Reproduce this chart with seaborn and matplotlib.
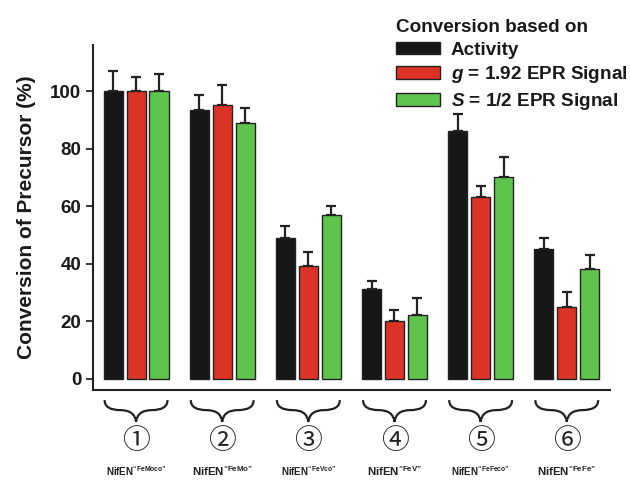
import numpy as np
import pandas as pd
import matplotlib
matplotlib.use('Agg')
import matplotlib.pyplot as plt
import matplotlib.transforms as mtransforms
from matplotlib.path import Path
from matplotlib.patches import PathPatch
import seaborn as sns

# data
groups = ['1', '2', '3', '4', '5', '6']
circled = ['\u2460', '\u2461', '\u2462', '\u2463', '\u2464', '\u2465']
variants = ['FeMoco', 'FeMo', 'FeVco', 'FeV', 'FeFeco', 'FeFe']
series = ['Activity', r'$\mathit{g}$ = 1.92 EPR Signal', r'$\mathit{S}$ = 1/2 EPR Signal']
activity = [100, 93.5, 49, 31, 86, 45]
activity_err = [7, 5, 4, 3, 6, 4]
g192 = [100, 95, 39, 20, 63, 25]
g192_err = [5, 7, 5, 4, 4, 5]
s12 = [100, 89, 57, 22, 70, 38]
s12_err = [6, 5, 3, 6, 7, 5]

colors = ['#161616', '#dd3326', '#5ec44c']

sns.set_style('white')
plt.rcParams['font.family'] = ['Liberation Sans', 'DejaVu Sans', 'Noto Sans CJK JP']
plt.rcParams['font.weight'] = 'bold'
plt.rcParams['mathtext.fontset'] = 'custom'
plt.rcParams['mathtext.rm'] = 'Liberation Sans:bold'
plt.rcParams['mathtext.bf'] = 'Liberation Sans:bold'
plt.rcParams['mathtext.it'] = 'Liberation Sans:italic:bold'

df = pd.DataFrame({
    'group': groups * 3,
    'series': [series[0]] * 6 + [series[1]] * 6 + [series[2]] * 6,
    'value': activity + g192 + s12,
    'err': activity_err + g192_err + s12_err,
})

fig = plt.figure(figsize=(6.3, 4.84), dpi=100)
ax = fig.add_axes([0.1476, 0.194, 0.8204, 0.713])

sns.barplot(data=df, x='group', y='value', hue='series', hue_order=series,
            palette=colors, saturation=1, errorbar=None, width=0.8, gap=0.17,
            edgecolor='#222222', linewidth=1.0, ax=ax, zorder=2)

# upper error bars only
for cont, s in zip(ax.containers, series):
    errs = df.loc[df['series'] == s, 'err'].values
    xs = [b.get_x() + b.get_width() / 2 for b in cont]
    hs = [b.get_height() for b in cont]
    ax.errorbar(xs, hs, yerr=[np.zeros(len(errs)), errs], fmt='none',
                ecolor='#222222', elinewidth=1.6, capsize=3.6, capthick=1.6, zorder=1)

ax.set_ylim(-4, 116)
ax.set_xlim(-0.5, 5.5)
ax.set_yticks([0, 20, 40, 60, 80, 100])
ax.tick_params(axis='y', direction='out', length=5, width=1.3, labelsize=13.5, left=True,
               labelcolor='#1a1a1a')
ax.tick_params(axis='x', bottom=False, labelbottom=False)
for lab in ax.get_yticklabels():
    lab.set_fontweight('bold')
ax.set_xlabel('')
ax.set_ylabel('Conversion of Precursor (%)', fontsize=15, fontweight='bold', labelpad=10,
              color='#1a1a1a')
sns.despine(ax=ax)
for sp in ['left', 'bottom']:
    ax.spines[sp].set_linewidth(1.5)
    ax.spines[sp].set_color('#222222')

# braces, circled numbers and names under each group
trans = mtransforms.blended_transform_factory(ax.transData, ax.transAxes)
w = 0.365
t, m, b = -0.029, -0.058, -0.092
for i in range(len(groups)):
    c = i
    verts = [(c - w, t), (c - w, m), (c - w / 2, m),
             (c - 0.015, m), (c, b),
             (c + 0.015, m), (c + w / 2, m),
             (c + w, m), (c + w, t)]
    codes = [Path.MOVETO, Path.CURVE3, Path.CURVE3,
             Path.CURVE3, Path.CURVE3,
             Path.CURVE3, Path.CURVE3,
             Path.CURVE3, Path.CURVE3]
    ax.add_patch(PathPatch(Path(verts, codes), transform=trans, fill=False,
                           lw=1.6, edgecolor='#222222', clip_on=False))
    ax.text(c, -0.148, circled[i], transform=trans, ha='center', va='center',
            fontsize=20, fontweight='normal', color='#222222',
            family=['Noto Sans CJK JP', 'DejaVu Sans'])
    size = 7 if i % 2 == 0 else 8.2
    ax.text(c, -0.235, 'NifEN$^{\\mathrm{\u201c' + variants[i] + '\u201d}}$',
            transform=trans, ha='center', va='center', fontsize=size,
            fontweight='bold', color='#222222')

handles, labels = ax.get_legend_handles_labels()
ax.get_legend().remove()
leg = fig.legend(handles, labels, title='Conversion based on', loc='upper left',
                 bbox_to_anchor=(0.628, 0.961), frameon=False, alignment='left',
                 prop={'weight': 'bold', 'size': 13.6},
                 title_fontproperties={'weight': 'bold', 'size': 13.6},
                 handlelength=2.37, handleheight=0.65, handletextpad=0.55,
                 labelspacing=0.3, borderpad=0, borderaxespad=0)
for txt in leg.get_texts() + [leg.get_title()]:
    txt.set_color('#1a1a1a')

fig.savefig('out.png', dpi=100)
